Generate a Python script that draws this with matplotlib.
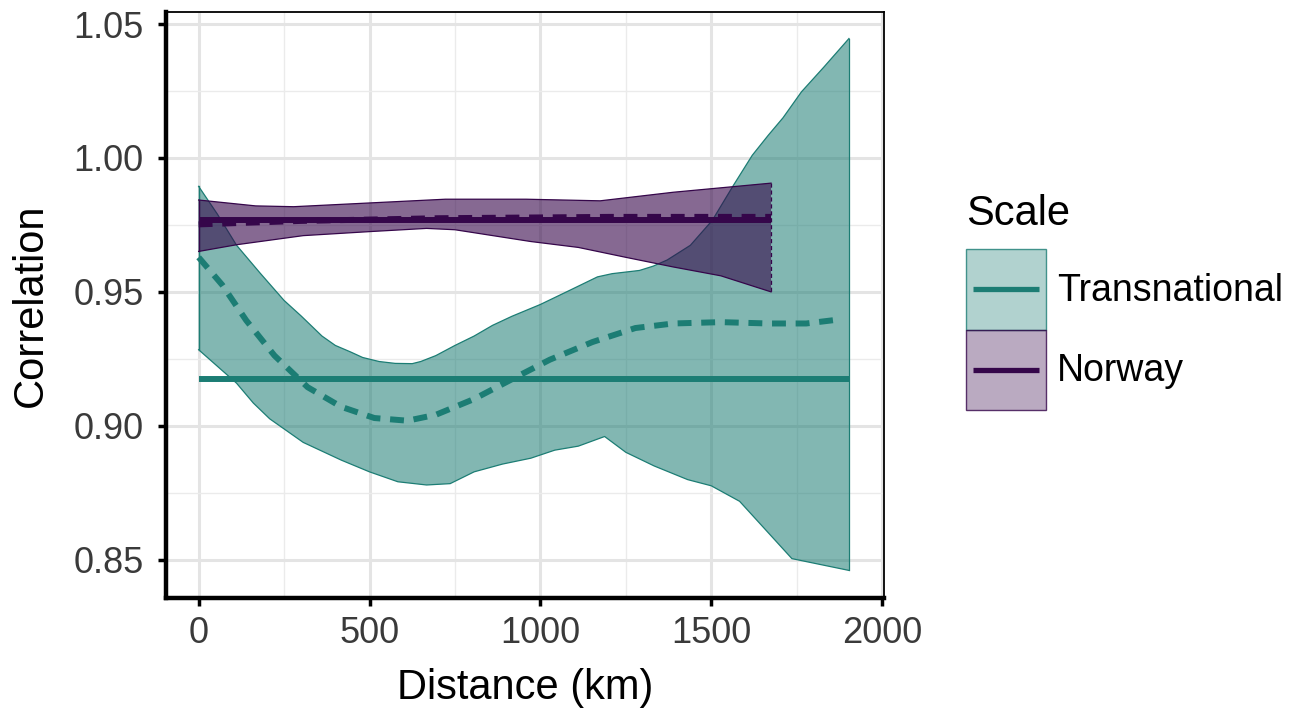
import matplotlib
matplotlib.use("Agg")
import matplotlib.pyplot as plt
from matplotlib.patches import Rectangle
from matplotlib.lines import Line2D
from matplotlib.legend_handler import HandlerBase
from matplotlib.ticker import MultipleLocator
from matplotlib.colors import to_rgba

plt.rcParams['font.family'] = ['Liberation Sans', 'DejaVu Sans']
plt.rcParams['lines.scale_dashes'] = False

# ---------------- data ----------------
series_names = ["Transnational", "Norway"]
series_colors = ["#1C7D74", "#35064A"]

# Transnational ribbon
trans_up_x = [0, 55, 111, 180, 250, 300, 361, 400, 444, 480, 528, 575, 625,
              650, 694, 750, 806, 860, 917, 1000, 1083, 1167, 1210, 1250,
              1290, 1330, 1371, 1439, 1503, 1564, 1620, 1667, 1710, 1764,
              1830, 1903]
trans_up_y = [0.9894, 0.9790, 0.9674, 0.9570, 0.9468, 0.9410, 0.9335, 0.9300,
              0.9276, 0.9255, 0.9240, 0.9233, 0.9232, 0.9240, 0.9262, 0.9300,
              0.9335, 0.9375, 0.9409, 0.9453, 0.9504, 0.9556, 0.9568, 0.9574,
              0.9580, 0.9596, 0.9619, 0.9674, 0.9767, 0.9896, 1.0010, 1.0085,
              1.0150, 1.0247, 1.0340, 1.0446]
trans_lo_x = [0, 111, 160, 208, 306, 417, 500, 583, 667, 736, 806, 889, 972,
              1042, 1111, 1188, 1250, 1333, 1431, 1500, 1583, 1736, 1903]
trans_lo_y = [0.9284, 0.9159, 0.9085, 0.9026, 0.8938, 0.8872, 0.8828, 0.8791,
              0.8779, 0.8784, 0.8828, 0.8857, 0.8879, 0.8909, 0.8924, 0.8960,
              0.8901, 0.8850, 0.8799, 0.8776, 0.8718, 0.8504, 0.8460]
trans_smooth_x = [0, 69, 139, 222, 319, 417, 514, 611, 694, 806, 917, 1028,
                  1153, 1278, 1389, 1528, 1667, 1778, 1875]
trans_smooth_y = [0.9629, 0.9526, 0.9394, 0.9262, 0.9144, 0.9071, 0.9029,
                  0.9019, 0.9041, 0.9100, 0.9174, 0.9247, 0.9313, 0.9365,
                  0.9382, 0.9387, 0.9382, 0.9382, 0.9397]
trans_mean_x = [0, 1903]
trans_mean_y = [0.9173, 0.9173]

# Norway ribbon
nor_up_x = [0, 167, 278, 500, 722, 958, 1175, 1389, 1675]
nor_up_y = [0.9843, 0.9821, 0.9818, 0.9832, 0.9846, 0.9846, 0.9840, 0.9872, 0.9906]
nor_lo_x = [0, 111, 306, 500, 667, 750, 972, 1111, 1250, 1389, 1528, 1675]
nor_lo_y = [0.9651, 0.9676, 0.9710, 0.9725, 0.9737, 0.9732, 0.9688, 0.9666,
            0.9629, 0.9593, 0.9560, 0.9500]
nor_smooth_x = [0, 300, 700, 1200, 1675]
nor_smooth_y = [0.9752, 0.9765, 0.9775, 0.9780, 0.9780]
nor_mean_x = [0, 1675]
nor_mean_y = [0.9770, 0.9770]

x_ticks = [0, 500, 1000, 1500, 2000]
y_ticks = [0.85, 0.90, 0.95, 1.00, 1.05]
y_tick_labels = ["0.85", "0.90", "0.95", "1.00", "1.05"]

# ---------------- figure ----------------
fig = plt.figure(figsize=(13, 7.15), dpi=100)
ax = fig.add_axes([166/1300, 1 - 598/715, (884 - 166)/1300, (598 - 12)/715])

ax.set_xlim(-95.5, 2005.5)
ax.set_ylim(0.8357, 1.0545)

# grid
ax.xaxis.set_major_locator(MultipleLocator(500))
ax.xaxis.set_minor_locator(MultipleLocator(250))
ax.yaxis.set_major_locator(MultipleLocator(0.05))
ax.yaxis.set_minor_locator(MultipleLocator(0.025))
ax.grid(which='major', color='#E4E4E4', lw=2.2, zorder=0)
ax.grid(which='minor', color='#EBEBEB', lw=1.0, zorder=0)
ax.set_axisbelow(True)
ax.tick_params(which='minor', length=0)

teal, purple = series_colors

# Transnational ribbon
ax.fill(trans_up_x + trans_lo_x[::-1], trans_up_y + trans_lo_y[::-1],
        facecolor=teal, alpha=0.55, edgecolor='none', zorder=2)
ax.plot(trans_up_x, trans_up_y, color=teal, lw=0.9, zorder=2.1)
ax.plot(trans_lo_x, trans_lo_y, color=teal, lw=0.9, zorder=2.1)
ax.plot([trans_up_x[-1], trans_lo_x[-1]], [trans_up_y[-1], trans_lo_y[-1]],
        color=teal, lw=0.9, zorder=2.1)
ax.plot([trans_up_x[0], trans_lo_x[0]], [trans_up_y[0], trans_lo_y[0]],
        color=teal, lw=0.9, zorder=2.1)

# Norway ribbon
ax.fill(nor_up_x + nor_lo_x[::-1], nor_up_y + nor_lo_y[::-1],
        facecolor=purple, alpha=0.6, edgecolor='none', zorder=3)
ax.plot(nor_up_x, nor_up_y, color=purple, lw=0.9, zorder=3.1)
ax.plot(nor_lo_x, nor_lo_y, color=purple, lw=0.9, zorder=3.1)
ax.plot([nor_up_x[-1], nor_lo_x[-1]], [nor_up_y[-1], nor_lo_y[-1]],
        color=purple, lw=0.9, ls=(0, (3, 2)), zorder=3.1)
ax.plot([nor_up_x[0], nor_lo_x[0]], [nor_up_y[0], nor_lo_y[0]],
        color=purple, lw=0.9, zorder=3.1)

# lines
LW = 4.3
dash = (0, (10, 7))
ax.plot(trans_mean_x, trans_mean_y, color=teal, lw=LW, solid_capstyle='butt', zorder=4)
ax.plot(trans_smooth_x, trans_smooth_y, color=teal, lw=LW, ls=dash,
        dash_capstyle='butt', zorder=4)
ax.plot(nor_smooth_x, nor_smooth_y, color=purple, lw=LW, ls=dash,
        dash_capstyle='butt', zorder=5)
ax.plot(nor_mean_x, nor_mean_y, color=purple, lw=LW, solid_capstyle='butt', zorder=5)

# axes styling
for side in ['top', 'right']:
    ax.spines[side].set_linewidth(1.3)
    ax.spines[side].set_color('black')
for side in ['left', 'bottom']:
    ax.spines[side].set_linewidth(3.2)
    ax.spines[side].set_color('black')

ax.set_xticks(x_ticks)
ax.set_yticks(y_ticks)
ax.set_yticklabels(y_tick_labels)
ax.tick_params(which='major', length=6, width=2.5, color='black',
               labelsize=26, labelcolor='#3A3A3A')
ax.tick_params(axis='x', pad=7)
ax.tick_params(axis='y', pad=10)
ax.set_xlabel("Distance (km)", fontsize=30, labelpad=12, color='black')
ax.set_ylabel("Correlation", fontsize=30, labelpad=16, color='black')


# legend
class KeyHandler(HandlerBase):
    def create_artists(self, legend, orig_handle, xdescent, ydescent,
                       width, height, fontsize, trans):
        color = str(orig_handle)
        rect = Rectangle((-xdescent, -ydescent), width, height,
                         facecolor=to_rgba(color, 0.34),
                         edgecolor=to_rgba(color, 0.8),
                         lw=1.0, transform=trans)
        ln = Line2D([-xdescent + 0.09 * width, -xdescent + 0.91 * width],
                    [-ydescent + height / 2] * 2, color=color, lw=3.8,
                    solid_capstyle='butt', transform=trans)
        return [rect, ln]


class ColorKey(str):
    pass


hs = [ColorKey(c) for c in series_colors]
leg = fig.legend(hs, series_names, handler_map={ColorKey: KeyHandler()},
                 title="Scale", loc='upper left',
                 bbox_to_anchor=(966/1300, 1 - 194/715),
                 frameon=False, fontsize=27, title_fontsize=30,
                 handlelength=2.13, handleheight=2.92, labelspacing=0.0,
                 handletextpad=0.3, borderpad=0, borderaxespad=0,
                 alignment='left')
leg._legend_box.sep = 11

fig.savefig("out.png", dpi=100)
